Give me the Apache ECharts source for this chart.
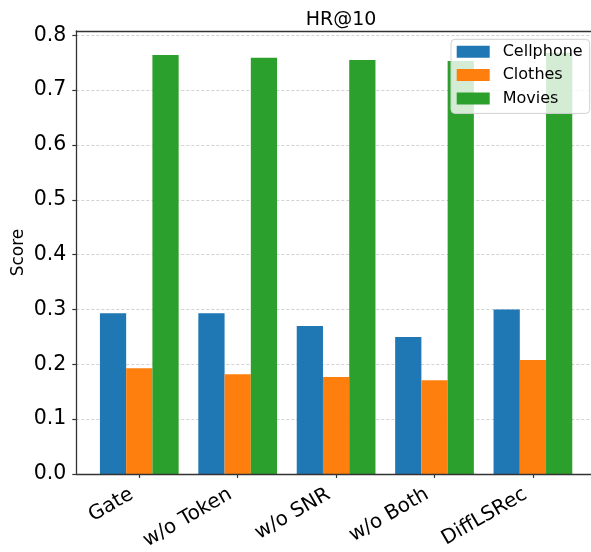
<!DOCTYPE html>
<html>
<head>
<meta charset="utf-8">
<script src="https://cdn.jsdelivr.net/npm/echarts@6/dist/echarts.min.js"></script>
<style>
html,body{margin:0;padding:0;background:#fff;}
#chart{width:591px;height:552px;}
</style>
</head>
<body>
<div id="chart"></div>
<script>
const categories = ['Gate', 'w/o Token', 'w/o SNR', 'w/o Both', 'DiffLSRec'];
const seriesNames = ['Cellphone', 'Clothes', 'Movies'];
const cellphone = [0.293, 0.293, 0.270, 0.250, 0.300];
const clothes = [0.193, 0.182, 0.177, 0.171, 0.208];
const movies = [0.764, 0.759, 0.755, 0.753, 0.768];
const yTicks = [0, 0.1, 0.2, 0.3, 0.4, 0.5, 0.6, 0.7, 0.8];
const colors = ['#1f77b4', '#ff7f0e', '#2ca02c'];

const FONT = 'DejaVu Sans';
const xMin = -0.64, xMax = 4.64;
const yMin = 0, yMax = 0.8078;
const catIdx = categories.map((c, i) => i);
const labelShift = -0.075;

const chart = echarts.init(document.getElementById('chart'));
const mk = (arr) => arr.map((v, i) => [i, v]);
const values = [cellphone, clothes, movies];

chart.setOption({
  animation: false,
  backgroundColor: '#fff',
  title: {
    text: 'HR@10',
    left: 336,
    textAlign: 'center',
    top: 6,
    textStyle: { fontFamily: FONT, fontSize: 19, fontWeight: 'normal', color: '#000' }
  },
  legend: {
    orient: 'vertical',
    left: 451,
    top: 39.3,
    data: seriesNames,
    itemWidth: 33,
    itemHeight: 12,
    itemGap: 7.3,
    icon: 'rect',
    padding: [4.5, 7, 7, 5.7],
    backgroundColor: 'rgba(255,255,255,0.8)',
    borderColor: '#d0d0d0',
    borderWidth: 1,
    borderRadius: 4,
    textStyle: { fontFamily: FONT, fontSize: 16, color: '#000', padding: [0, 0, 0, 8] }
  },
  grid: {
    left: 76.3, top: 31, width: 519.6, height: 443,
    outerBoundsMode: 'none', containLabel: false
  },
  xAxis: [{
    type: 'value',
    min: xMin, max: xMax,
    z: 5,
    axisLine: { show: true, onZero: false, lineStyle: { color: '#333', width: 1.3 } },
    axisTick: { show: true, customValues: catIdx, length: 4, lineStyle: { color: '#333', width: 1.2 } },
    axisLabel: {
      customValues: catIdx.map(i => i + labelShift),
      formatter: (v) => categories[Math.round(v)],
      rotate: 30,
      margin: 19,
      fontFamily: FONT, fontSize: 20, color: '#000'
    },
    splitLine: { show: false }
  }, {
    type: 'value',
    position: 'top',
    min: xMin, max: xMax,
    z: 5,
    axisLine: { show: true, onZero: false, lineStyle: { color: '#333', width: 1.3 } },
    axisTick: { show: false },
    axisLabel: { show: false },
    splitLine: { show: false }
  }],
  yAxis: {
    type: 'value',
    min: yMin, max: yMax,
    interval: 0.1,
    name: 'Score',
    nameLocation: 'middle',
    nameGap: 49,
    nameMoveOverlap: false,
    nameTextStyle: { fontFamily: FONT, fontSize: 17, color: '#000' },
    axisLine: { show: true, onZero: false, lineStyle: { color: '#333', width: 1.3 } },
    axisTick: { show: true, customValues: yTicks, length: 4, lineStyle: { color: '#333', width: 1.2 } },
    axisLabel: {
      customValues: yTicks,
      formatter: (v) => v.toFixed(1),
      margin: 10,
      fontFamily: FONT, fontSize: 20.5, color: '#000'
    },
    splitLine: { show: true, lineStyle: { color: '#c8c8c8', width: 0.8, type: [3, 2] } }
  },
  series: seriesNames.map((name, k) => ({
    name: name,
    type: 'bar',
    xAxisIndex: 0,
    data: mk(values[k]),
    barWidth: 26.24,
    barGap: '0%',
    itemStyle: { color: colors[k] },
    z: 2
  }))
});
</script>
</body>
</html>
